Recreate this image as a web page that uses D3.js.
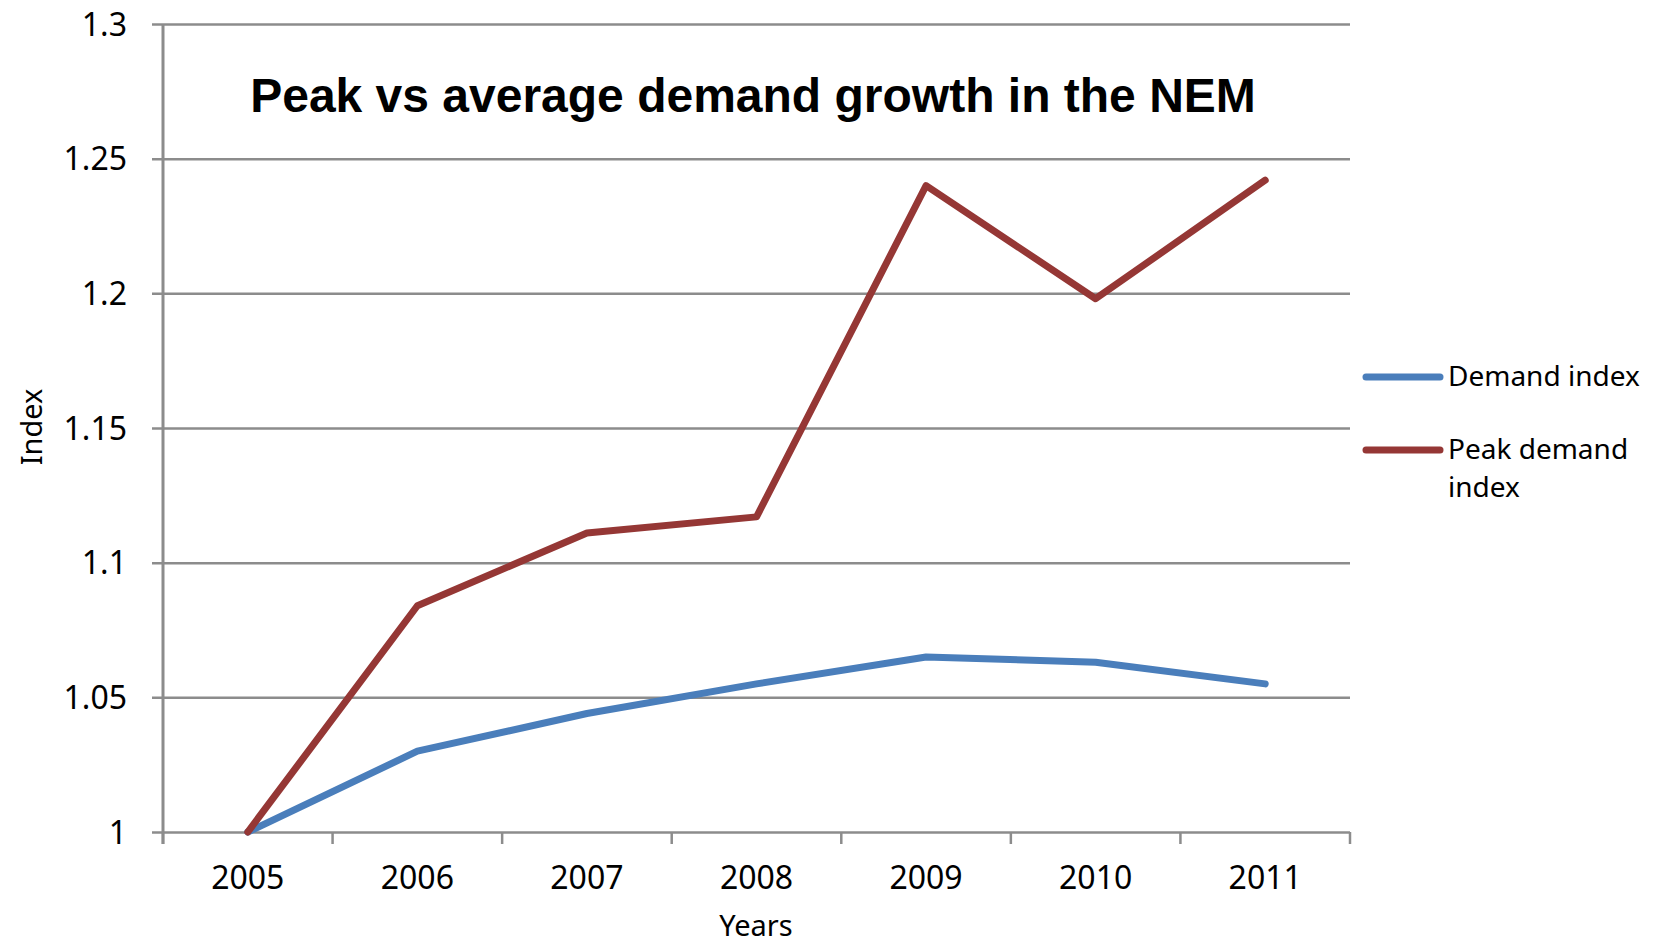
<!DOCTYPE html>
<html>
<head>
<meta charset="utf-8">
<script src="https://cdn.jsdelivr.net/npm/d3@7"></script>
<style>
  body { margin: 0; background: #fff; }
  text { font-family: "Noto Sans", sans-serif; fill: #000; }
</style>
</head>
<body>
<svg id="chart" width="1653" height="948"></svg>
<script>
const years = ["2005", "2006", "2007", "2008", "2009", "2010", "2011"];
const demandIndex = [1.0, 1.030, 1.044, 1.055, 1.065, 1.063, 1.055];
const peakDemandIndex = [1.0, 1.084, 1.111, 1.117, 1.240, 1.198, 1.242];
const yTicks = [1, 1.05, 1.1, 1.15, 1.2, 1.25, 1.3];
const seriesNames = ["Demand index", "Peak demand index"];
const seriesColors = ["#4a7ebb", "#953735"];

const svg = d3.select("#chart");
const margin = { left: 163, right: 1350, top: 24, bottom: 832 };

const x = d3.scaleBand().domain(years).range([margin.left, margin.right]);
const y = d3.scaleLinear().domain([1, 1.3]).range([margin.bottom, margin.top]);

// gridlines + y ticks
const yAxis = svg.append("g")
  .attr("transform", `translate(${margin.left},0)`)
  .call(d3.axisLeft(y).tickValues(yTicks).tickSize(-(margin.right - margin.left)).tickSizeOuter(0)
    .tickFormat(d => d3.format("")(+d.toFixed(2))));
yAxis.select(".domain").remove();
yAxis.selectAll(".tick line")
  .attr("x1", -11)
  .attr("stroke", "#8c8c8c")
  .attr("stroke-width", 2.5);
yAxis.selectAll(".tick text")
  .attr("x", -36)
  .attr("dy", "0.35em")
  .style("font-size", "32px");

// vertical axis line
svg.append("line")
  .attr("x1", margin.left).attr("x2", margin.left)
  .attr("y1", margin.top).attr("y2", margin.bottom + 12)
  .attr("stroke", "#8c8c8c").attr("stroke-width", 3);

// x axis ticks at band boundaries
const xAxis = svg.append("g")
  .attr("transform", `translate(0,${margin.bottom})`)
  .call(d3.axisBottom(x).tickSize(0));
xAxis.select(".domain").remove();
xAxis.selectAll(".tick text")
  .attr("y", 46)
  .attr("dy", "0.35em")
  .style("font-size", "32px");
svg.append("g").selectAll("line")
  .data(years.concat(["end"]))
  .join("line")
  .attr("x1", (d, i) => i < years.length ? x(d) : x(years[years.length - 1]) + x.bandwidth())
  .attr("x2", (d, i) => i < years.length ? x(d) : x(years[years.length - 1]) + x.bandwidth())
  .attr("y1", margin.bottom).attr("y2", margin.bottom + 12)
  .attr("stroke", "#8c8c8c").attr("stroke-width", 2.5);

// lines
const line = d3.line()
  .x((d, i) => x(years[i]) + x.bandwidth() / 2)
  .y(d => y(d));

[demandIndex, peakDemandIndex].forEach((s, k) => {
  svg.append("path")
    .datum(s)
    .attr("d", line)
    .attr("fill", "none")
    .attr("stroke", seriesColors[k])
    .attr("stroke-width", 7)
    .attr("stroke-linejoin", "round")
    .attr("stroke-linecap", "round");
});

// title
svg.append("text")
  .attr("x", 753).attr("y", 112)
  .attr("text-anchor", "middle")
  .style("font-family", "'Liberation Sans', Arial, sans-serif")
  .style("font-weight", "bold")
  .style("font-size", "48px")
  .text("Peak vs average demand growth in the NEM");

// axis titles
svg.append("text")
  .attr("x", 756).attr("y", 936)
  .attr("text-anchor", "middle")
  .style("font-size", "29px")
  .text("Years");
svg.append("text")
  .attr("transform", "translate(42,427) rotate(-90)")
  .attr("text-anchor", "middle")
  .style("font-size", "29px")
  .text("Index");

// legend
const legend = svg.append("g");
const legendRows = [[["Demand index"], 377], [["Peak demand", "index"], 450]];
legendRows.forEach(([lines, ly], k) => {
  legend.append("line")
    .attr("x1", 1366).attr("x2", 1440)
    .attr("y1", ly).attr("y2", ly)
    .attr("stroke", seriesColors[k])
    .attr("stroke-width", 7)
    .attr("stroke-linecap", "round");
  lines.forEach((t, j) => {
    legend.append("text")
      .attr("x", 1448).attr("y", ly + 9 + j * 38)
      .style("font-size", "28px")
      .text(t);
  });
});
</script>
</body>
</html>
